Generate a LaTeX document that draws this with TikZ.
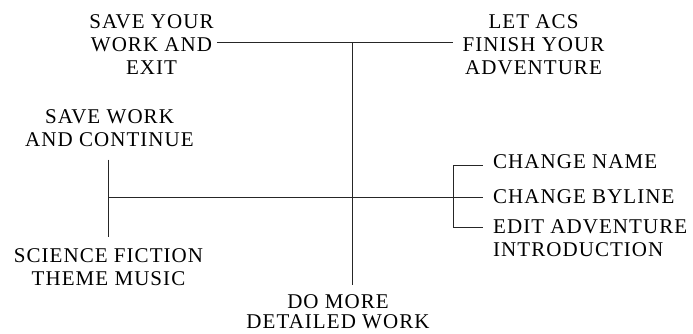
\documentclass[tikz,border=0pt]{standalone}
\usepackage{fontspec}
\setmainfont{Liberation Serif}[LetterSpace=5]
\begin{document}
\begin{tikzpicture}[x=1pt,y=-1pt,
  lbl/.style={font=\fontsize{21}{23}\selectfont, inner sep=0pt, align=center},
  conn/.style={draw=black!85, line width=1pt}]
\useasboundingbox (0,0) rectangle (693,334);
\node[lbl, anchor=north] (exitN) at (151.5,14) {SAVE YOUR\\WORK AND\\EXIT};
\node[lbl, anchor=north] (acsN) at (533.5,14) {LET ACS\\FINISH YOUR\\ADVENTURE};
\node[lbl, anchor=north] (contN) at (109.5,109) {SAVE WORK\\AND CONTINUE};
\node[lbl, anchor=north] (musicN) at (108.5,248) {SCIENCE FICTION\\THEME MUSIC};
\node[lbl, anchor=north, font=\fontsize{21}{20}\selectfont] (moreN) at (338,294) {DO MORE\\DETAILED WORK};
\node[lbl, anchor=north west] (nameN) at (493,154.5) {CHANGE NAME};
\node[lbl, anchor=north west] (bylineN) at (493,189.5) {CHANGE BYLINE};
\node[lbl, anchor=north west, align=left] (editN) at (493,219.5) {EDIT ADVENTURE\\INTRODUCTION};
\coordinate (top) at (352,43);
\coordinate (lv) at (108,197);
\coordinate (bt) at (453,165);
\coordinate (bm) at (453,197);
\coordinate (bb) at (453,227);
\draw[conn, shorten <=3pt, shorten >=9pt] (exitN.east |- top) -- (acsN.west |- top);
\draw[conn, shorten >=9pt] (top) -- (top |- moreN.north);
\draw[conn] (lv) -- (bm);
\draw[conn, shorten <=13pt, shorten >=11pt] (lv |- contN.south) -- (lv |- musicN.north);
\draw[conn] (bt) -- (bb);
\draw[conn, shorten >=10pt] (bt) -- (nameN.west |- bt);
\draw[conn, shorten >=10pt] (bm) -- (bylineN.west |- bm);
\draw[conn, shorten >=10pt] (bb) -- (editN.west |- bb);
\end{tikzpicture}
\end{document}
